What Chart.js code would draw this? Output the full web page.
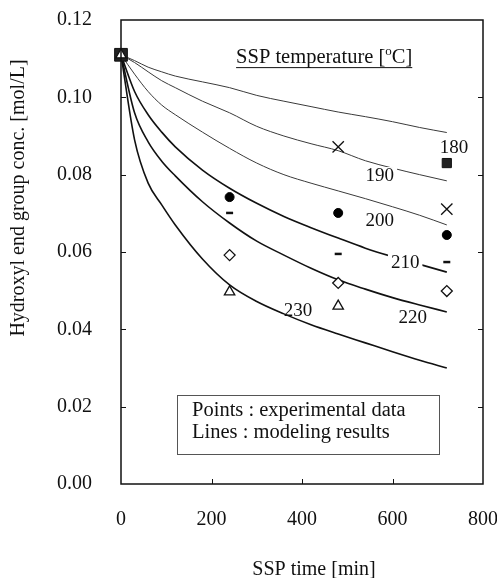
<!DOCTYPE html>
<html>
<head>
<meta charset="utf-8">
<script src="https://cdn.jsdelivr.net/npm/chart.js@4.4.0/dist/chart.umd.min.js"></script>
<style>
  html, body { margin: 0; padding: 0; background: #fff; }
  canvas { display: block; }
</style>
</head>
<body>
<canvas id="ssp" width="497" height="578"></canvas>
<script>
// --- model curves (lines), SSP temperature in degC ---
const temps = ['180', '190', '200', '210', '220', '230'];
const modelTimes = [0, 30, 60, 90, 120, 180, 240, 300, 360, 420, 480, 540, 600, 660, 720];
const model180 = [0.111, 0.1095, 0.1078, 0.1066, 0.1055, 0.1040, 0.1025, 0.1005, 0.0990, 0.0976, 0.0962, 0.0950, 0.0937, 0.0922, 0.0909];
const model190 = [0.111, 0.1090, 0.1066, 0.1043, 0.1025, 0.0990, 0.0960, 0.0925, 0.0900, 0.0880, 0.0862, 0.0836, 0.0817, 0.0800, 0.0784];
const model200 = [0.111, 0.1060, 0.1015, 0.0980, 0.0955, 0.0910, 0.0868, 0.0830, 0.0800, 0.0778, 0.0758, 0.0738, 0.0717, 0.0695, 0.0670];
const model210 = [0.111, 0.1015, 0.0955, 0.0910, 0.0872, 0.0812, 0.0765, 0.0726, 0.0692, 0.0663, 0.0636, 0.0610, 0.0588, 0.0568, 0.0548];
const model220 = [0.111, 0.0960, 0.0885, 0.0835, 0.0797, 0.0730, 0.0675, 0.0628, 0.0592, 0.0558, 0.0528, 0.0504, 0.0482, 0.0463, 0.0445];
const model230 = [0.111, 0.0890, 0.0778, 0.0722, 0.0670, 0.0582, 0.0515, 0.0472, 0.0440, 0.0412, 0.0388, 0.0365, 0.0342, 0.0320, 0.0300];

// --- experimental points ---
const expTimes = [0, 240, 480, 720];
const exp180 = [0.111, null, null, 0.0830];
const exp190 = [null, null, 0.0872, 0.0711];
const exp200 = [null, 0.0742, 0.0701, 0.0644];
const exp210 = [null, 0.0701, 0.0595, 0.0574];
const exp220 = [null, 0.0592, 0.0520, 0.0499];
const exp230 = [0.111, 0.0497, 0.0460, null];

const xTicks = [0, 200, 400, 600, 800];
const yTicks = [0, 0.02, 0.04, 0.06, 0.08, 0.10, 0.12];

const SERIF = '"Liberation Serif", "Times New Roman", serif';
const INK = '#111';

const toXY = (xs, ys) => xs.map((t, i) => ({ x: t, y: ys[i] })).filter(p => p.y !== null);

// label anchors (data units) for the curve numbers
const curveLabelAt = {
  '180': [736, 0.0872], '190': [572, 0.0799], '200': [572, 0.0683],
  '210': [628, 0.0574], '220': [645, 0.0432], '230': [391, 0.0450]
};
const knockOut = ['190', '210'];

const models = [model180, model190, model200, model210, model220, model230];

const lineSets = models.map((vals, i) => ({
  label: temps[i] + ' model',
  data: toXY(modelTimes, vals),
  showLine: true,
  pointRadius: 0,
  borderColor: i < 3 ? '#3a3a3a' : INK,
  borderWidth: i < 3 ? 1 : 1.6,
  cubicInterpolationMode: 'monotone',
  fill: false
}));

const pointSets = [
  { label: '230', data: toXY(expTimes, exp230), pointStyle: 'triangle', pointRadius: 6,
    backgroundColor: '#fff', borderColor: INK, borderWidth: 1.3 },
  { label: '220', data: toXY(expTimes, exp220), pointStyle: 'rectRot', pointRadius: 5.5,
    backgroundColor: '#fff', borderColor: INK, borderWidth: 1.3 },
  { label: '210', data: toXY(expTimes, exp210), pointStyle: 'line', pointRadius: 3.5,
    borderColor: INK, borderWidth: 2.5 },
  { label: '200', data: toXY(expTimes, exp200), pointStyle: 'circle', pointRadius: 4.5,
    backgroundColor: '#000', borderColor: '#000', borderWidth: 1 },
  { label: '190', data: toXY(expTimes, exp190), pointStyle: 'crossRot', pointRadius: 8,
    borderColor: INK, borderWidth: 1.3 },
  { label: '180', data: toXY(expTimes, exp180), pointStyle: 'rect',
    pointRadius: c => c.dataIndex === 0 ? 9 : 6.5,
    backgroundColor: '#222', borderColor: INK, borderWidth: 1 }
].map(d => Object.assign({ showLine: false, clip: false }, d));

// frame, inner ticks, labels, legend box, axis titles
const decorations = {
  id: 'decorations',
  afterDatasetsDraw(chart) {
    const { ctx, chartArea: a, scales: { x, y } } = chart;
    ctx.save();

    // frame
    ctx.strokeStyle = INK;
    ctx.lineWidth = 1.5;
    ctx.strokeRect(a.left, a.top, a.right - a.left, a.bottom - a.top);

    // inward tick marks
    ctx.lineWidth = 1;
    ctx.beginPath();
    yTicks.slice(1, -1).forEach(v => {
      const py = Math.round(y.getPixelForValue(v)) + 0.5;
      ctx.moveTo(a.left, py); ctx.lineTo(a.left + 5, py);
      ctx.moveTo(a.right, py); ctx.lineTo(a.right - 5, py);
    });
    xTicks.slice(1, -1).forEach(v => {
      const px = Math.round(x.getPixelForValue(v)) + 0.5;
      ctx.moveTo(px, a.bottom); ctx.lineTo(px, a.bottom - 5);
    });
    ctx.stroke();

    // curve labels
    ctx.font = '19px ' + SERIF;
    ctx.textAlign = 'center';
    ctx.textBaseline = 'middle';
    temps.forEach(t => {
      const [tx, ty] = curveLabelAt[t];
      const px = x.getPixelForValue(tx), py = y.getPixelForValue(ty);
      if (knockOut.includes(t)) {
        const w = ctx.measureText(t).width;
        ctx.fillStyle = '#fff';
        ctx.fillRect(px - w / 2 - 3, py - 8, w + 6, 16);
      }
      ctx.fillStyle = INK;
      ctx.fillText(t, px, py + 1);
    });

    // "SSP temperature [oC]" heading, underlined
    const hx = x.getPixelForValue(449), hy = y.getPixelForValue(0.1104);
    const big = '20.5px ' + SERIF, small = '13px ' + SERIF;
    const p1 = 'SSP temperature [', sup = 'o', p2 = 'C]';
    ctx.font = big;
    const w1 = ctx.measureText(p1).width, w3 = ctx.measureText(p2).width;
    ctx.font = small;
    const w2 = ctx.measureText(sup).width;
    const total = w1 + w2 + w3;
    const cx = hx - total / 2;
    ctx.textAlign = 'left';
    ctx.textBaseline = 'alphabetic';
    ctx.fillStyle = INK;
    ctx.font = big;
    ctx.fillText(p1, cx, hy + 6);
    ctx.font = small;
    ctx.fillText(sup, cx + w1, hy - 2);
    ctx.font = big;
    ctx.fillText(p2, cx + w1 + w2, hy + 6);
    ctx.lineWidth = 1;
    ctx.beginPath();
    ctx.moveTo(cx, hy + 10.5); ctx.lineTo(cx + total, hy + 10.5);
    ctx.stroke();

    // legend box
    const bx0 = x.getPixelForValue(124), bx1 = x.getPixelForValue(704);
    const by0 = y.getPixelForValue(0.0230), by1 = y.getPixelForValue(0.0078);
    ctx.strokeStyle = '#555';
    ctx.lineWidth = 1;
    ctx.strokeRect(Math.round(bx0) + 0.5, Math.round(by0) + 0.5, Math.round(bx1 - bx0), Math.round(by1 - by0));
    ctx.fillStyle = INK;
    ctx.font = big;
    ctx.textBaseline = 'middle';
    const tx = x.getPixelForValue(157);
    ctx.fillText('Points : experimental data', tx, y.getPixelForValue(0.0189));
    ctx.fillText('Lines : modeling results', tx, y.getPixelForValue(0.0132));

    // axis titles
    ctx.font = '20px ' + SERIF;
    ctx.textAlign = 'center';
    ctx.fillText('SSP time [min]', 314, 570);
    ctx.translate(19, 198);
    ctx.rotate(-Math.PI / 2);
    ctx.fillText('Hydroxyl end group conc. [mol/L]', 0, 0);

    ctx.restore();
  }
};

new Chart(document.getElementById('ssp'), {
  type: 'scatter',
  data: { datasets: [...pointSets, ...lineSets] },
  options: {
    responsive: false,
    animation: false,
    devicePixelRatio: 1,
    layout: { padding: { top: 20, right: 14, left: 0, bottom: 0 } },
    plugins: { legend: { display: false }, tooltip: { enabled: false } },
    scales: {
      x: {
        type: 'linear', min: 0, max: 800,
        afterBuildTicks: s => { s.ticks = xTicks.map(v => ({ value: v })); },
        ticks: { padding: 16, maxRotation: 0, color: INK, font: { family: SERIF, size: 20 } },
        grid: { display: false },
        border: { display: false },
        afterFit: s => { s.height = 94; s.paddingLeft = 0; s.paddingRight = 0; }
      },
      y: {
        type: 'linear', min: 0, max: 0.12,
        afterBuildTicks: s => { s.ticks = yTicks.map(v => ({ value: v })); },
        ticks: { padding: 21, color: INK, font: { family: SERIF, size: 20 },
                 callback: v => v.toFixed(2) },
        grid: { display: false },
        border: { display: false },
        afterFit: s => { s.width = 121; s.paddingTop = 0; s.paddingBottom = 0; }
      }
    }
  },
  plugins: [decorations]
});
</script>
</body>
</html>
